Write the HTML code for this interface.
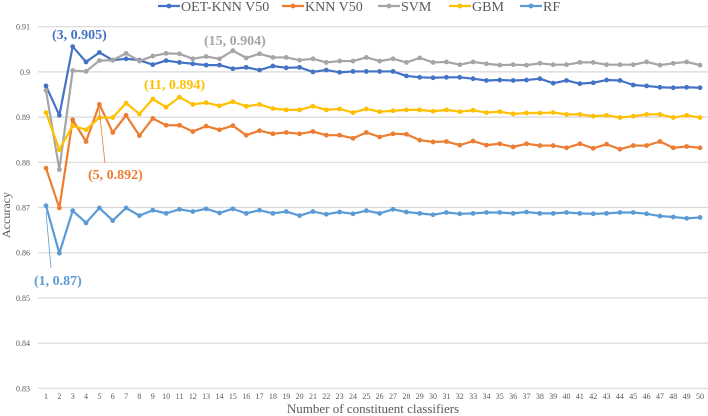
<!DOCTYPE html>
<html><head><meta charset="utf-8"><style>
body{margin:0;background:#fff;}
svg{display:block;font-family:"Liberation Serif",serif;}
text{font-family:"Liberation Serif",serif;}
</style></head><body>
<svg id="chart" width="708" height="416">
<g id="grid"></g>
<g id="yticks"></g>
<g id="xticks"></g>
<g id="series"></g>
<text x="10" y="215" font-size="12" fill="#595959" text-anchor="middle" transform="rotate(-90 10 215)">Accuracy</text>
<text x="373" y="413" font-size="13" fill="#595959" text-anchor="middle">Number of constituent classifiers</text>
<g id="legend"></g>
<g font-weight="bold" font-size="14" font-family="Liberation Serif, serif">
<text x="52" y="39" fill="#4472C4">(3, 0.905)</text>
<text x="204" y="45" fill="#A5A5A5">(15, 0.904)</text>
<text x="144" y="89" fill="#FFC000">(11, 0.894)</text>
<text x="88" y="179" fill="#ED7D31">(5, 0.892)</text>
<text x="34" y="285" fill="#5B9BD5">(1, 0.87)</text>
<line x1="99" y1="108" x2="105" y2="163" stroke="#ED7D31" stroke-width="0.8"/>
<line x1="46" y1="212" x2="51" y2="268" stroke="#5B9BD5" stroke-width="0.8"/>
</g>
</svg>
<script>
const categories = Array.from({length:50},(_,i)=>i+1);
const yTicks = [0.83,0.84,0.85,0.86,0.87,0.88,0.89,0.90,0.91];
const yTickLabels = ["0.83","0.84","0.85","0.86","0.87","0.88","0.89","0.9","0.91"];
const seriesNames = ["OET-KNN V50","KNN V50","SVM","GBM","RF"];
const seriesColors = ["#4472C4","#ED7D31","#A5A5A5","#FFC000","#5B9BD5"];
const oetKnn = [.8969,.8904,.9056,.9022,.9043,.9026,.9029,.9026,.9016,.9025,.9021,.9018,.9015,.9015,.9007,.901,.9004,.9013,.9009,.901,.900,.9004,.8999,.9001,.9001,.9001,.9001,.8991,.8988,.8987,.8988,.8988,.8985,.8981,.8982,.8981,.8982,.8985,.8975,.8981,.8974,.8976,.8982,.8981,.8971,.8969,.8966,.8965,.8966,.8965];
const knn = [.8787,.8699,.8894,.8846,.8928,.8866,.8904,.8859,.8897,.8882,.8882,.8868,.888,.8872,.8881,.886,.887,.8863,.8866,.8863,.8868,.886,.886,.8853,.8866,.8856,.8863,.8862,.8849,.8845,.8846,.8838,.8847,.8838,.8841,.8834,.8841,.8837,.8837,.8832,.8841,.8831,.884,.8829,.8837,.8837,.8846,.8832,.8835,.8832];
const svm = [.8959,.8784,.9003,.9001,.9025,.9026,.9041,.9024,.9035,.9041,.904,.9029,.9034,.9029,.9047,.9031,.904,.9032,.9032,.9026,.9029,.9021,.9024,.9024,.9032,.9024,.9029,.9021,.9031,.9021,.9022,.9016,.9022,.9018,.9015,.9016,.9015,.9019,.9016,.9016,.9021,.9021,.9016,.9016,.9016,.9022,.9015,.9019,.9022,.9015];
const gbm = [.891,.8828,.8881,.8872,.8899,.8899,.8931,.8907,.894,.8922,.8944,.8928,.8932,.8925,.8934,.8924,.8928,.8919,.8916,.8916,.8924,.8916,.8918,.891,.8918,.8912,.8914,.8916,.8916,.8913,.8916,.8912,.8915,.891,.8912,.8907,.8909,.8909,.891,.8906,.8906,.8902,.8904,.8899,.8902,.8906,.8906,.8899,.8904,.8899];
const rf = [.8704,.8599,.8693,.8666,.8699,.8671,.8699,.8682,.8694,.8687,.8696,.8691,.8697,.8688,.8697,.8687,.8694,.8687,.8691,.8682,.8691,.8685,.869,.8686,.8693,.8687,.8696,.869,.8687,.8684,.8689,.8686,.8687,.8689,.8689,.8687,.869,.8687,.8687,.8689,.8687,.8686,.8687,.8689,.8689,.8686,.8681,.8679,.8676,.8678];
const seriesData = [oetKnn,knn,svm,gbm,rf];
</script>
<script>
const NS="http://www.w3.org/2000/svg";
function xs(i){return 46+(i-1)*(654/49);}
function ys(v){return 26.7+(0.91-v)*4520;}
function mk(tag,attrs,parent){const e=document.createElementNS(NS,tag);for(const k in attrs)e.setAttribute(k,attrs[k]);parent.appendChild(e);return e;}
const grid=document.getElementById('grid'),yt=document.getElementById('yticks'),xt=document.getElementById('xticks'),sg=document.getElementById('series'),lg=document.getElementById('legend');
yTicks.forEach((v,k)=>{
  const l=mk('line',{x1:38,x2:708,y1:ys(v),y2:ys(v),stroke:'#D9D9D9','stroke-width':1.2},grid);
  
  
  const t=mk('text',{x:30,y:ys(v)+3,'font-size':8,fill:'#595959','text-anchor':'end'},yt);
  t.textContent=yTickLabels[k];
  
  
});
categories.forEach(c=>{
  const t=mk('text',{x:xs(c),y:399,'font-size':8,fill:'#595959','text-anchor':'middle'},xt);
  t.textContent=c;
  
  
});
seriesData.forEach((d,s)=>{
  const g=mk('g',{},sg);
  
  
  const p=mk('polyline',{points:d.map((v,i)=>xs(categories[i])+','+ys(v)).join(' '),fill:'none',stroke:seriesColors[s],'stroke-width':2.2,'stroke-linejoin':'round'},g);
  
  
  d.forEach((v,i)=>{
    const c=mk('circle',{cx:xs(categories[i]),cy:ys(v),r:2.4,fill:seriesColors[s]},g);
    
    
  });
});
const legendX=[158,282,378,449,520];
seriesNames.forEach((n,s)=>{
  const g=mk('g',{},lg);
  
  
  const x=legendX[s];
  mk('line',{x1:x,x2:x+22,y1:6,y2:6,stroke:seriesColors[s],'stroke-width':2.2},g);
  mk('circle',{cx:x+11,cy:6,r:2.4,fill:seriesColors[s]},g);
  const t=mk('text',{x:x+23,y:11,'font-size':14,fill:'#595959'},g);
  t.textContent=n;
});
</script>
</body></html>
